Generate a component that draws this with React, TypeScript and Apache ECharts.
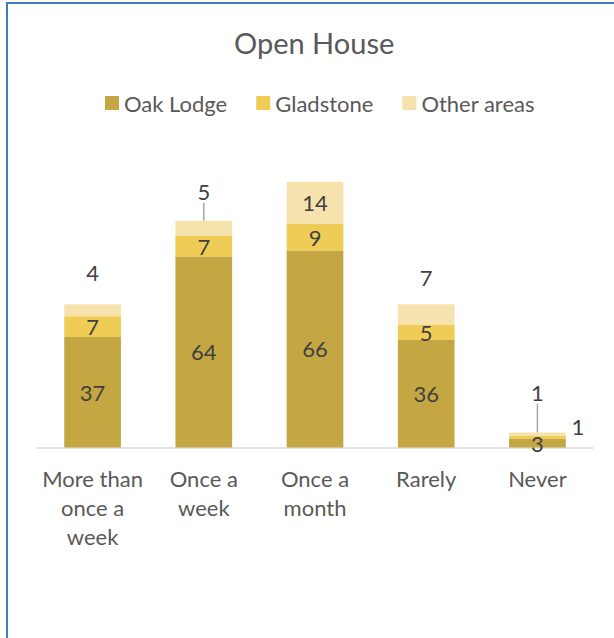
import React, { useEffect, useRef } from "react";
import * as echarts from "echarts";

const categories = ["More than\nonce a\nweek", "Once a\nweek", "Once a\nmonth", "Rarely", "Never"];
const seriesNames = ["Oak Lodge", "Gladstone", "Other areas"];
const oakLodge = [37, 64, 66, 36, 3];
const gladstone = [7, 7, 9, 5, 1];
const otherAreas = [4, 5, 14, 7, 1];

const colors = ["#c4a742", "#eecc55", "#f5e2ad"];
const FONT = "Lato";
const LABEL_COLOR = "#404040";
const TEXT_COLOR = "#595959";

// label placement tweaks (pixels above the segment top), null = inside
const otherLift: (number | null)[] = [32, 29, null, 27, 40];
const otherLeader = [false, true, false, false, true];

export default function App() {
  const ref = useRef<HTMLDivElement>(null);
  useEffect(() => {
    if (!ref.current) return;
    const chart = echarts.init(ref.current, undefined, { renderer: "svg" });
    const labelBase = {
      show: true,
      color: LABEL_COLOR,
      fontFamily: FONT,
      fontSize: 22,
    };
    const option: any = {
      animation: false,
      backgroundColor: "#ffffff",
      title: {
        text: "Open House",
        left: 234,
        top: 28,
        padding: 0,
        textStyle: { color: TEXT_COLOR, fontFamily: FONT, fontSize: 29, fontWeight: "normal" },
      },
      legend: {
        data: seriesNames,
        left: 105,
        top: 92,
        padding: 0,
        itemWidth: 14,
        itemHeight: 14,
        itemGap: 29,
        icon: "rect",
        textStyle: { color: TEXT_COLOR, fontFamily: FONT, fontSize: 22 },
      },
      graphic: [
        {
          type: "rect",
          shape: { x: 7, y: 3, width: 1000, height: 1000 },
          style: { fill: "none", stroke: "#3f7cbf", lineWidth: 2 },
          silent: true,
          z: 100,
        },
      ],
      grid: { left: 37, right: 21, top: 149, bottom: 190.5 },
      xAxis: {
        type: "category",
        data: categories,
        axisLine: { show: true, lineStyle: { color: "#d9d9d9", width: 1.5 } },
        axisTick: { show: false },
        axisLabel: {
          interval: 0,
          color: TEXT_COLOR,
          fontFamily: FONT,
          fontSize: 22,
          lineHeight: 29,
          margin: 16,
        },
      },
      yAxis: {
        type: "value",
        min: 0,
        max: 100,
        show: false,
        splitLine: { show: false },
      },
      series: [
        {
          name: seriesNames[0],
          type: "bar",
          stack: "total",
          barWidth: "51%",
          itemStyle: { color: colors[0] },
          label: { ...labelBase, position: "inside" },
          data: oakLodge,
        },
        {
          name: seriesNames[1],
          type: "bar",
          stack: "total",
          barWidth: "51%",
          itemStyle: { color: colors[1] },
          label: { ...labelBase, position: "inside" },
          labelLayout: (p: any) => {
            if (p.dataIndex !== 4) return {};
            return {
              x: p.rect.x + p.rect.width + 12,
              y: p.rect.y - 9,
              align: "center",
              verticalAlign: "middle",
            };
          },
          data: gladstone,
        },
        {
          name: seriesNames[2],
          type: "bar",
          stack: "total",
          barWidth: "51%",
          itemStyle: { color: colors[2] },
          label: { ...labelBase, position: "inside" },
          labelLayout: (p: any) => {
            const lift = otherLift[p.dataIndex];
            if (lift == null) return {};
            return {
              x: p.rect.x + p.rect.width / 2,
              y: p.rect.y - lift,
              align: "center",
              verticalAlign: "middle",
            };
          },
          data: otherAreas.map((v, i) =>
            otherLeader[i]
              ? {
                  value: v,
                  label: { padding: [9, 0, 9, 0] },
                  labelLine: { show: true, lineStyle: { color: "#a6a6a6", width: 1.5 } },
                }
              : v
          ),
        },
      ],
    };
    chart.setOption(option);
    return () => chart.dispose();
  }, []);
  return (
    <div
      ref={ref}
      style={{ position: "absolute", left: 0, top: 0, width: 614, height: 638 }}
    />
  );
}
